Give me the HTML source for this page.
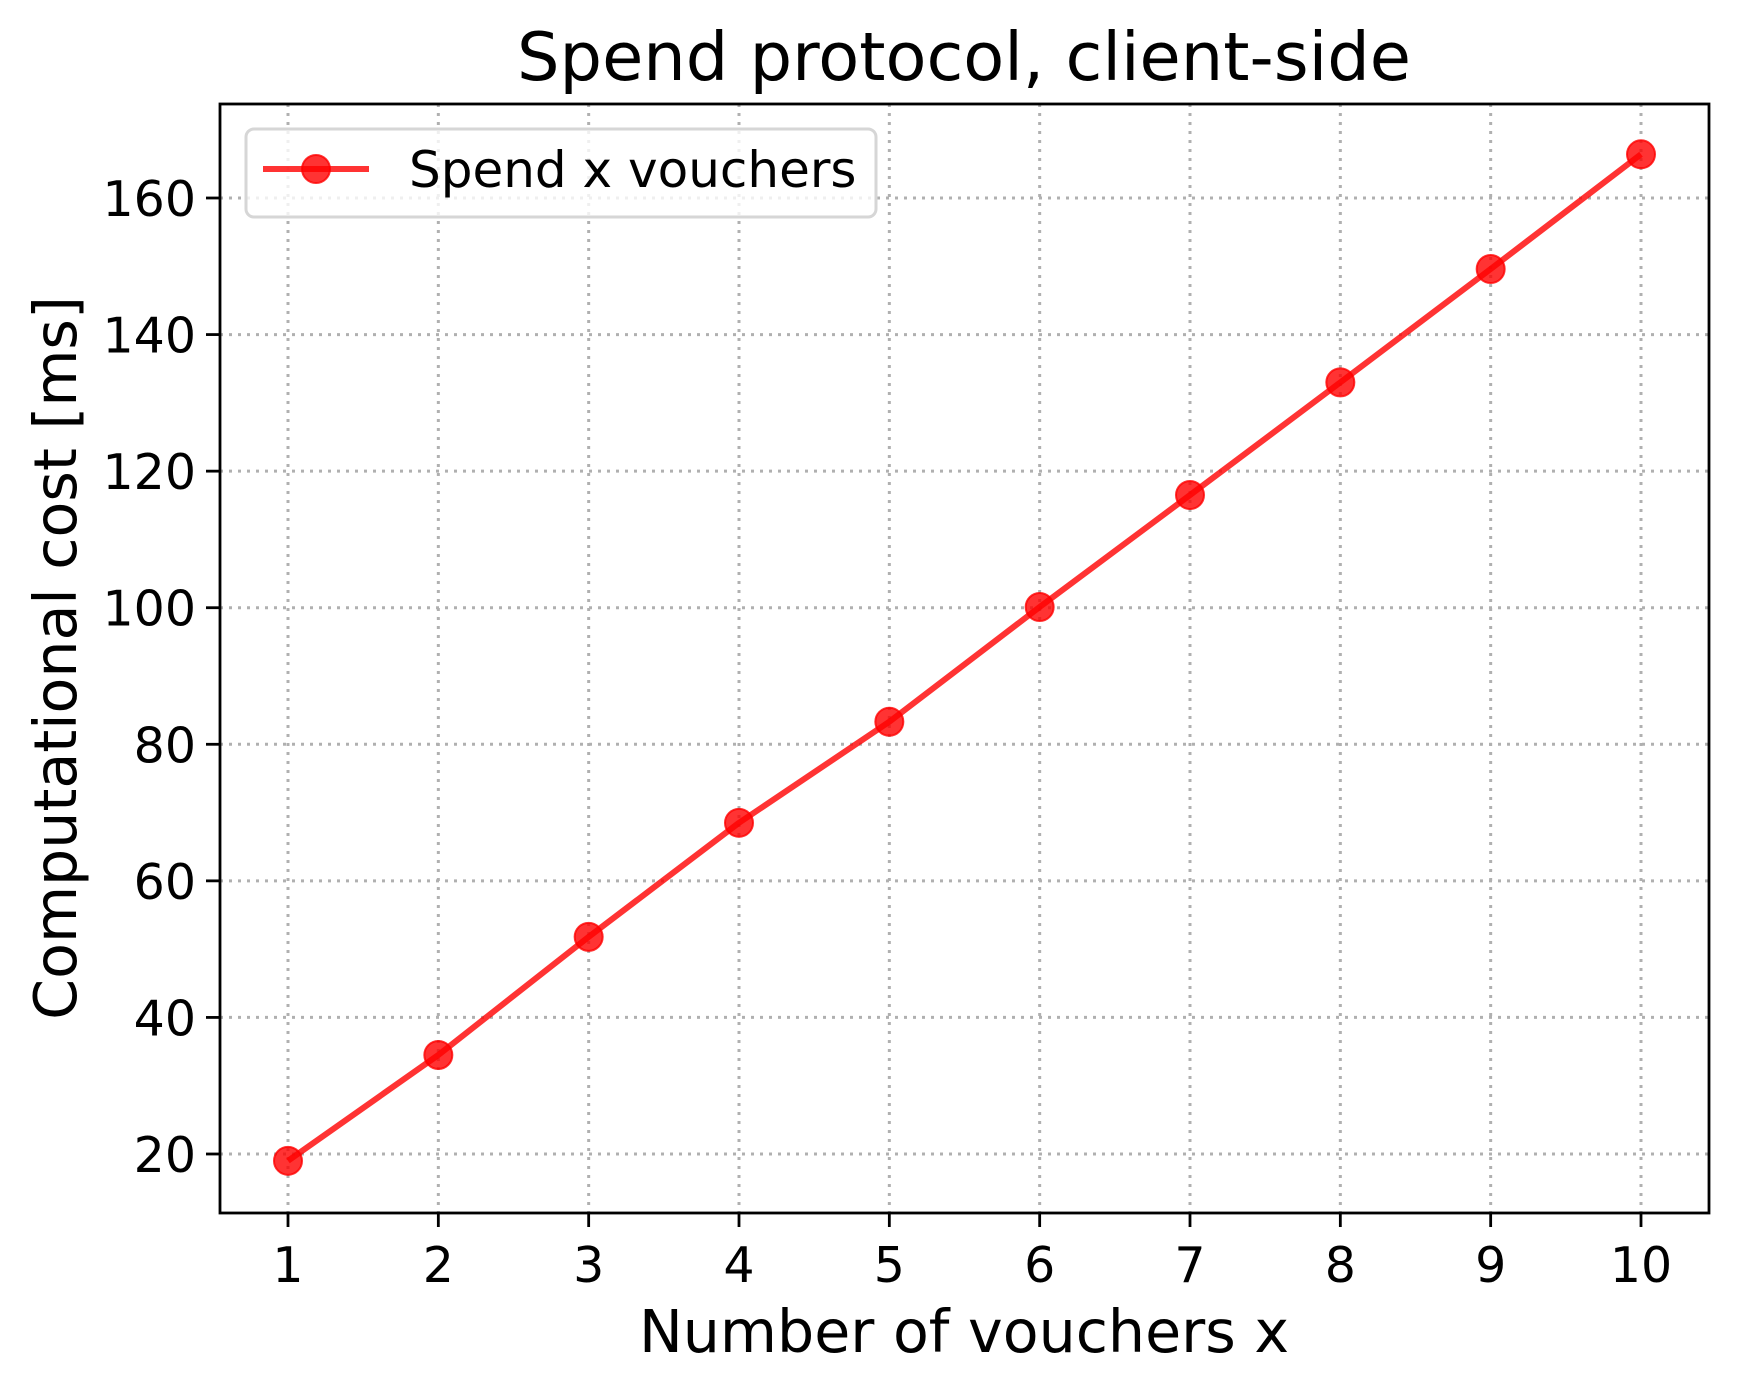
<!DOCTYPE html>
<html><head><meta charset="utf-8"><style>
html,body{margin:0;padding:0;background:#fff}
svg{display:block}
text{font-family:"DejaVu Sans","Liberation Sans",sans-serif;fill:#000}
</style></head><body>
<svg id="chart" width="1738" height="1394" viewBox="0 0 1738 1394" xmlns="http://www.w3.org/2000/svg">
<rect width="1738" height="1394" fill="#fff"/>
<text x="964" y="80" font-size="67" text-anchor="middle">Spend protocol, client-side</text>
<g id="grid"></g>
<g id="ticks"></g>
<g id="series"></g>
<rect x="220" y="104" width="1489" height="1109" fill="none" stroke="#000" stroke-width="2.8"/>
<text x="964" y="1352" font-size="58.6" text-anchor="middle">Number of vouchers x</text>
<text transform="translate(76,658) rotate(-90)" font-size="58.6" text-anchor="middle">Computational cost [ms]</text>
<g>
<rect x="246" y="129" width="630" height="88" rx="8" fill="#fff" fill-opacity="0.8" stroke="#d6d6d6" stroke-width="3"/>
<line x1="263" y1="169" x2="369" y2="169" stroke="#ff0000" stroke-opacity="0.8" stroke-width="6"/>
<circle cx="316" cy="169" r="14" fill="#ff0000" fill-opacity="0.8" stroke="#ff0000" stroke-opacity="0.8" stroke-width="2"/>
<text x="409" y="187" font-size="50">Spend x vouchers</text>
</g>
</svg>
<script>
const categories = [1,2,3,4,5,6,7,8,9,10];
const costValues = [19.0, 34.5, 51.8, 68.5, 83.3, 100.1, 116.5, 133.0, 149.6, 166.4];
const yTicks = [20,40,60,80,100,120,140,160];
const xTickLabels = ["1","2","3","4","5","6","7","8","9","10"];

const NS = "http://www.w3.org/2000/svg";
const X0 = 220, X1 = 1709, Y0 = 104, Y1 = 1213;
function xScale(v){ return 288 + (v - 1) * (1641 - 288) / 9; }
function yScale(v){ return 1154 - (v - 20) * (1154 - 198) / 140; }
function mk(tag, attrs, parent){ const e = document.createElementNS(NS, tag); for (const k in attrs) e.setAttribute(k, attrs[k]); parent.appendChild(e); return e; }

const grid = document.getElementById('grid');
const ticks = document.getElementById('ticks');
const series = document.getElementById('series');

categories.forEach((c, i) => {
  const x = xScale(c);
  const g = mk('line', {x1:x, y1:Y0, x2:x, y2:Y1, stroke:'#b0b0b0', 'stroke-width':3, 'stroke-dasharray':'3 6'}, grid);
  
  
  const t = mk('line', {x1:x, y1:Y1, x2:x, y2:Y1+14, stroke:'#000', 'stroke-width':2.8}, ticks);
  
  
  const l = mk('text', {x:x, y:1282, 'font-size':49, 'text-anchor':'middle'}, ticks);
  l.textContent = xTickLabels[i];
  
  
});
yTicks.forEach(v => {
  const y = yScale(v);
  const g = mk('line', {x1:X0, y1:y, x2:X1, y2:y, stroke:'#b0b0b0', 'stroke-width':3, 'stroke-dasharray':'3 6'}, grid);
  
  
  const t = mk('line', {x1:X0-14, y1:y, x2:X0, y2:y, stroke:'#000', 'stroke-width':2.8}, ticks);
  
  
  const l = mk('text', {x:196, y:y+18, 'font-size':49, 'text-anchor':'end'}, ticks);
  l.textContent = String(v);
  
  
});
const pts = categories.map((c, i) => xScale(c) + ',' + yScale(costValues[i])).join(' ');
const line = mk('polyline', {points:pts, fill:'none', stroke:'#ff0000', 'stroke-opacity':0.8, 'stroke-width':6, 'stroke-linejoin':'round'}, series);


categories.forEach((c, i) => {
  const p = mk('circle', {cx:xScale(c), cy:yScale(costValues[i]), r:14, fill:'#ff0000', 'fill-opacity':0.8, stroke:'#ff0000', 'stroke-opacity':0.8, 'stroke-width':2}, series);
  
  
});
</script>
</body></html>
